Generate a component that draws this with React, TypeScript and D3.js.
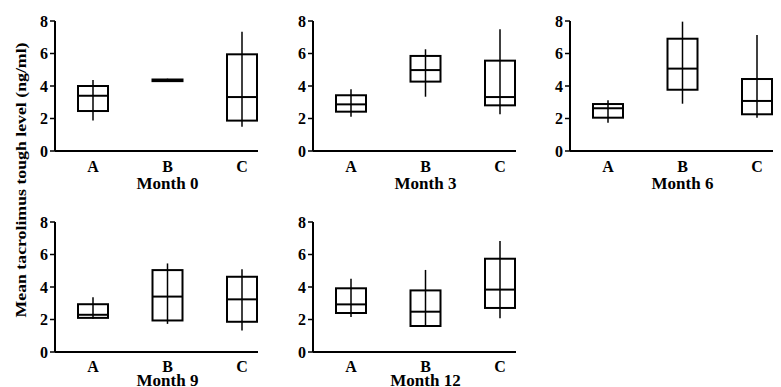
import * as d3 from "d3";

const W = 781;
const H = 387;

const groups = ["A", "B", "C"];
const months = ["Month 0", "Month 3", "Month 6", "Month 9", "Month 12"];
const yTicks = [0, 2, 4, 6, 8];

// one row per month, one value per group (A, B, C)
const whiskerLow = [
  [1.87, 4.25, 1.5],
  [2.11, 3.34, 2.26],
  [1.74, 2.91, 2.05],
  [2.04, 1.73, 1.33],
  [2.15, 1.6, 2.07],
];
const q1 = [
  [2.46, 4.3, 1.87],
  [2.42, 4.27, 2.81],
  [2.05, 3.77, 2.26],
  [2.1, 1.94, 1.86],
  [2.4, 1.6, 2.71],
];
const median = [
  [3.4, 4.35, 3.32],
  [2.87, 4.98, 3.32],
  [2.63, 5.07, 3.08],
  [2.29, 3.41, 3.24],
  [2.93, 2.48, 3.84],
];
const q3 = [
  [4.0, 4.4, 5.95],
  [3.43, 5.85, 5.56],
  [2.89, 6.91, 4.43],
  [2.94, 5.04, 4.63],
  [3.92, 3.79, 5.74],
];
const whiskerHigh = [
  [4.37, 4.45, 7.34],
  [3.8, 6.26, 7.5],
  [3.12, 7.96, 7.14],
  [3.37, 5.45, 5.1],
  [4.51, 5.05, 6.83],
];

const font = "'Liberation Serif', 'Times New Roman', serif";
const colX = [55, 313, 570];
const rowY = [151, 352];
const plotH = 130;
const axisLen = 203;
const boxW = 30;

function Panel({ m }: { m: number }) {
  const row = Math.floor(m / 3);
  const x0 = colX[m % 3];
  const y0 = rowY[row];
  const y = d3.scaleLinear().domain([0, 8]).range([y0, y0 - plotH]);
  const x = d3.scalePoint<string>().domain(groups).range([x0 + 38, x0 + 187]);

  return (
    <g>
      <line x1={x0} x2={x0} y1={y(8)} y2={y(0)} stroke="#000" strokeWidth={2} />
      <line x1={x0} x2={x0 + axisLen} y1={y(0)} y2={y(0)} stroke="#000" strokeWidth={2} />
      {yTicks.map((t) => (
        <g key={t}>
          <line x1={x0 - 5} x2={x0} y1={y(t)} y2={y(t)} stroke="#000" strokeWidth={1.5} />
          <text
            x={x0 - 7}
            y={y(t)}
            dy="0.35em"
            textAnchor="end"
            fontFamily={font}
            fontWeight="bold"
            fontSize={16}
          >
            {t}
          </text>
        </g>
      ))}
      {groups.map((g, i) => {
        const cx = x(g)!;
        return (
          <g key={g}>
            <line
              x1={cx}
              x2={cx}
              y1={y(whiskerHigh[m][i])}
              y2={y(whiskerLow[m][i])}
              stroke="#000"
              strokeWidth={1.5}
            />
            <rect
              x={cx - boxW / 2}
              y={y(q3[m][i])}
              width={boxW}
              height={y(q1[m][i]) - y(q3[m][i])}
              fill="none"
              stroke="#000"
              strokeWidth={2}
            />
            <line
              x1={cx - boxW / 2}
              x2={cx + boxW / 2}
              y1={y(median[m][i])}
              y2={y(median[m][i])}
              stroke="#000"
              strokeWidth={2}
            />
            <text
              x={cx}
              y={y0 + (row ? 20 : 21)}
              textAnchor="middle"
              fontFamily={font}
              fontWeight="bold"
              fontSize={16}
            >
              {g}
            </text>
          </g>
        );
      })}
      <text
        x={x("B")!}
        y={y0 + (row ? 34 : 38)}
        textAnchor="middle"
        fontFamily={font}
        fontWeight="bold"
        fontSize={17}
      >
        {months[m]}
      </text>
    </g>
  );
}

export default function App() {
  return (
    <svg
      width={W}
      height={H}
      style={{ position: "absolute", left: 0, top: 0, background: "#fff" }}
    >
      <rect width={W} height={H} fill="#fff" />
      {months.map((_, m) => (
        <Panel key={m} m={m} />
      ))}
      <text
        transform="translate(26,180) rotate(-90)"
        textAnchor="middle"
        fontFamily={font}
        fontWeight="bold"
        fontSize={15}
        textLength={275}
        lengthAdjust="spacingAndGlyphs"
      >
        Mean tacrolimus tough level (ng/ml)
      </text>
    </svg>
  );
}
